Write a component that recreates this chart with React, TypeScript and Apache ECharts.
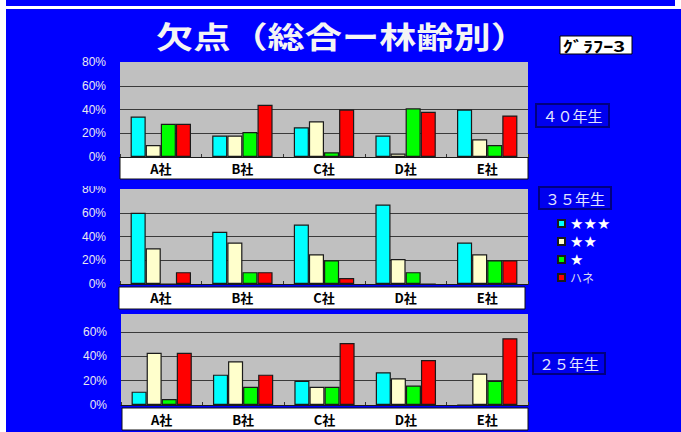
import React, { useEffect, useRef } from "react";
import * as echarts from "echarts";

const companies = ["A社", "B社", "C社", "D社", "E社"];
const seriesNames = ["★★★", "★★", "★", "ハネ"];
const seriesColors = ["#00FFFF", "#FFFFCC", "#00FF00", "#FF0000"];
const panelNames = ["４０年生", "３５年生", "２５年生"];

// 40年生
const y40_3 = [34, 18, 25, 18, 40];
const y40_2 = [10, 18, 30, 3, 15];
const y40_1 = [28, 21, 4, 41, 10];
const y40_h = [28, 44, 40, 38, 35];
// 35年生
const y35_3 = [60, 44, 50, 67, 35];
const y35_2 = [30, 35, 25, 21, 25];
const y35_1 = [0, 10, 20, 10, 20];
const y35_h = [10, 10, 5, 0, 20];
// 25年生
const y25_3 = [11, 25, 20, 27, 0];
const y25_2 = [43, 36, 15, 22, 26];
const y25_1 = [5, 15, 15, 16, 20];
const y25_h = [43, 25, 51, 37, 55];

const panels = [
  [y40_3, y40_2, y40_1, y40_h],
  [y35_3, y35_2, y35_1, y35_h],
  [y25_3, y25_2, y25_1, y25_h],
];
const yMax = [80, 80, 75];

const JP = "'Noto Sans CJK JP', sans-serif";
const STAR = "'DejaVu Sans', sans-serif";

export default function App() {
  const ref = useRef<HTMLDivElement>(null);
  useEffect(() => {
    if (!ref.current) return;
    const chart = echarts.init(ref.current, null, { renderer: "svg" });
    const grids = [
      { left: 120, top: 62, width: 408, height: 95 },
      { left: 120, top: 189, width: 408, height: 95 },
      { left: 121, top: 314, width: 407, height: 91 },
    ];
    const labelMargins = [5, 7, 7.5];
    const series: any[] = [];
    panels.forEach((p, pi) => {
      p.forEach((vals, si) => {
        series.push({
          type: "bar",
          name: seriesNames[si],
          xAxisIndex: pi,
          yAxisIndex: pi,
          data: vals,
          barGap: "0%",
          barCategoryGap: "26%",
          itemStyle: { color: seriesColors[si], borderColor: "#1a1a1a", borderWidth: 1.2 },
        });
      });
    });
    const boxes = [
      { x: 120, y: 157, w: 408, h: 22 },
      { x: 119, y: 287, w: 406, h: 22 },
      { x: 122, y: 408, w: 406, h: 22 },
    ];
    const labelBoxes = [
      { x: 536, y: 104, w: 73, h: 23 },
      { x: 539, y: 187, w: 72, h: 22 },
      { x: 533, y: 353, w: 72, h: 21 },
    ];
    const graphic: any[] = [
      { type: "rect", z: -1, shape: { x: 0, y: 0, width: 6, height: 432 }, style: { fill: "#fff" } },
      { type: "rect", z: -1, shape: { x: 6, y: 6, width: 675, height: 3 }, style: { fill: "#fff" } },
      { type: "rect", z: -1, shape: { x: 675, y: 0, width: 6, height: 6 }, style: { fill: "#fff" } },
      {
        type: "text",
        x: 342,
        y: 35,
        scaleX: 1.24,
        style: {
          text: "欠点（総合ー林齢別）",
          fill: "#f4f4f4",
          fontSize: 30,
          fontWeight: "bold",
          fontFamily: JP,
          align: "center",
          verticalAlign: "middle",
        },
      },
      {
        type: "rect",
        shape: { x: 560, y: 36, width: 72, height: 18 },
        style: { fill: "#fff", stroke: "#000", lineWidth: 1 },
      },
      {
        type: "text",
        x: 594,
        y: 45.5,
        scaleX: 1.35,
        style: {
          text: "ｸﾞﾗﾌｰ3",
          fill: "#000",
          fontSize: 15,
          fontWeight: "bold",
          fontFamily: JP,
          align: "center",
          verticalAlign: "middle",
        },
      },
      {
        type: "rect",
        z: 50,
        shape: { x: 55, y: 179, width: 63, height: 7 },
        style: { fill: "#0000FF" },
      },
    ];
    boxes.forEach((b) =>
      graphic.push({
        type: "rect",
        z: -1,
        shape: { x: b.x, y: b.y, width: b.w, height: b.h },
        style: { fill: "#fff", stroke: "#111", lineWidth: 1 },
      })
    );
    labelBoxes.forEach((b, i) => {
      graphic.push({
        type: "rect",
        z: -1,
        shape: { x: b.x, y: b.y, width: b.w, height: b.h },
        style: { fill: "#0000EE", stroke: "#000080", lineWidth: 2 },
      });
      graphic.push({
        type: "text",
        x: b.x + b.w / 2,
        y: b.y + b.h / 2,
        style: {
          text: panelNames[i],
          fill: "#e4e6ff",
          fontSize: 15,
          fontFamily: JP,
          align: "center",
          verticalAlign: "middle",
        },
      });
    });

    const option: any = {
      animation: false,
      backgroundColor: "#0000FF",
      grid: grids.map((g) => ({
        ...g,
        show: true,
        backgroundColor: "#C0C0C0",
        borderWidth: 0,
        containLabel: false,
      })),
      xAxis: grids.map((_, i) => ({
        type: "category",
        gridIndex: i,
        data: companies,
        axisLine: { show: true, lineStyle: { color: "#1a1a1a", width: 1 } },
        axisTick: { show: true, inside: true, length: 3, lineStyle: { color: "#333" } },
        axisLabel: {
          color: "#000",
          fontWeight: "bold",
          fontSize: 13,
          fontFamily: JP,
          margin: labelMargins[i],
        },
      })),
      yAxis: grids.map((_, i) => ({
        type: "value",
        gridIndex: i,
        min: 0,
        max: yMax[i],
        interval: 20,
        axisLine: { show: false },
        axisTick: { show: false },
        axisLabel: {
          formatter: "{value}%",
          color: "#e8e8f0",
          fontSize: 12,
          fontFamily: "'Liberation Sans', Arial, sans-serif",
          margin: 14,
          showMaxLabel: i === 2 ? false : true,
        },
        splitLine: {
          show: true,
          showMinLine: false,
          showMaxLine: false,
          lineStyle: { color: "#3a3a3a", width: 1 },
        },
      })),
      legend: {
        orient: "vertical",
        left: 557,
        top: 216,
        padding: 0,
        itemWidth: 7,
        itemHeight: 7,
        itemGap: 3,
        icon: "rect",
        selectedMode: false,
        data: seriesNames,
        formatter: (name: string) => (name === "ハネ" ? `{h|${name}}` : `{s|${name}}`),
        textStyle: {
          color: "#fff",
          fontSize: 15,
          lineHeight: 15,
          fontFamily: STAR,
          rich: {
            s: { color: "#ffffff", fontSize: 15, lineHeight: 15, fontFamily: STAR },
            h: { color: "#d8d8ee", fontSize: 12, lineHeight: 15, fontFamily: JP },
          },
        },
      },
      graphic,
      series,
    };
    chart.setOption(option);
    return () => chart.dispose();
  }, []);
  return (
    <div
      ref={ref}
      style={{ position: "fixed", left: 0, top: 0, width: 681, height: 432 }}
    />
  );
}
